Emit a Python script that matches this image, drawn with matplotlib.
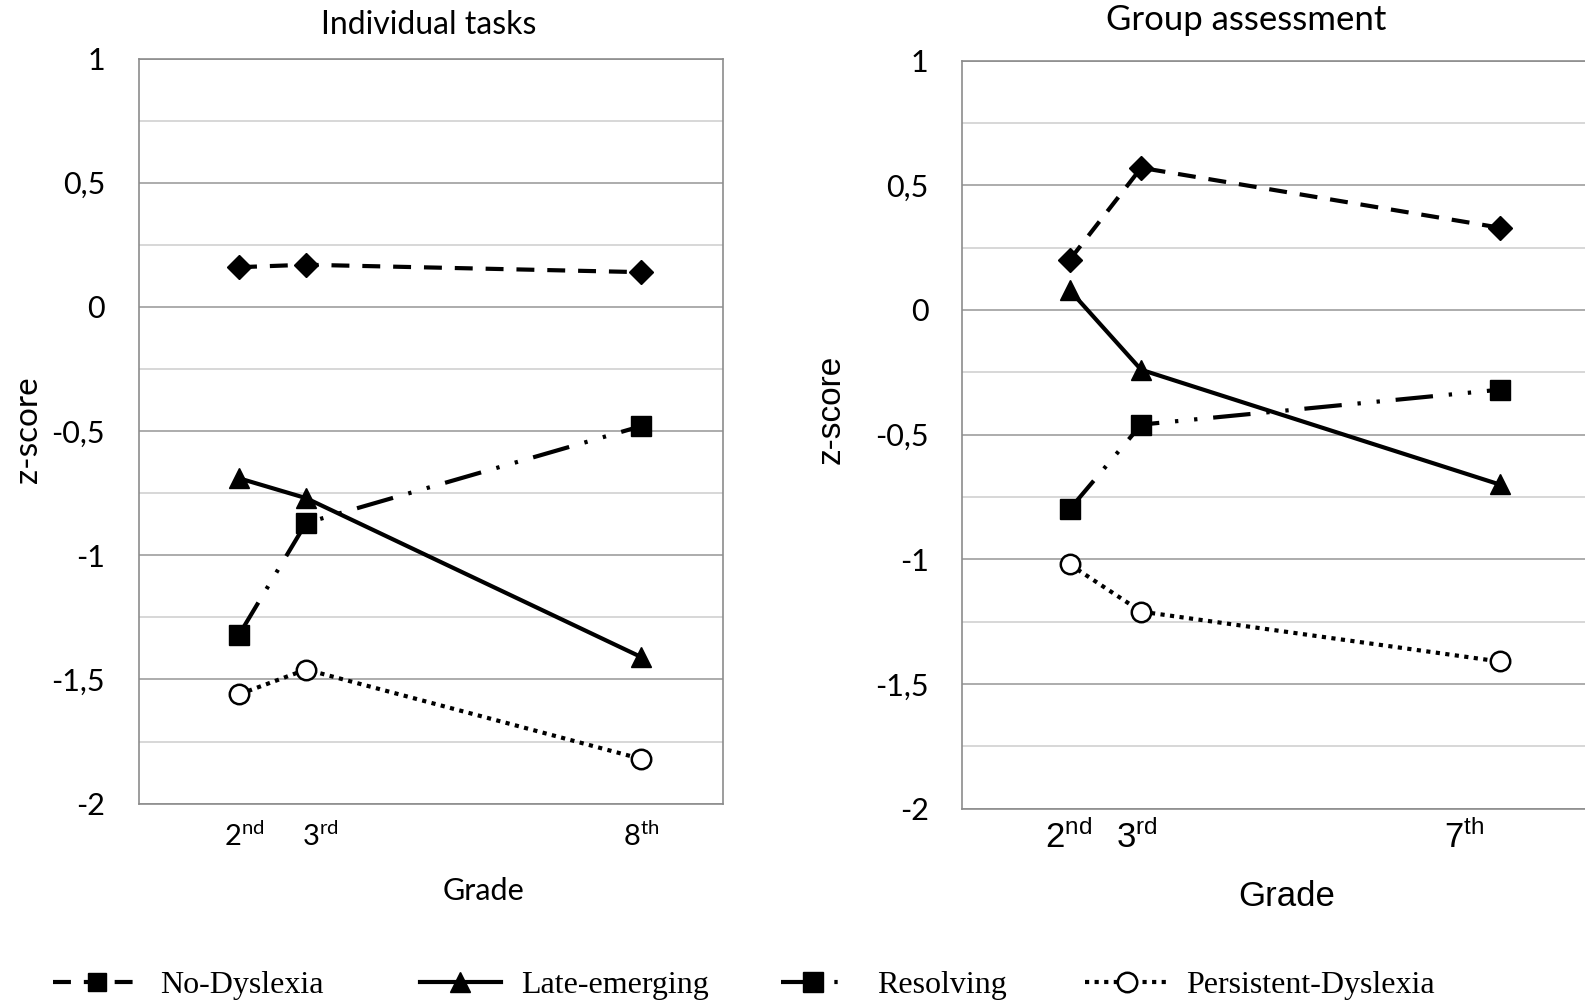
import matplotlib.pyplot as plt
from matplotlib.lines import Line2D
from matplotlib.ticker import MultipleLocator, FuncFormatter
import matplotlib.transforms as mtransforms

plt.rcParams['mathtext.default'] = 'regular'

# data
groups = ['No-Dyslexia', 'Late-emerging', 'Resolving', 'Persistent-Dyslexia']

ind_x = [2, 3, 8]
ind_grades = ['2', '3', '8']
ind_suffix = ['nd', 'rd', 'th']
ind_values = {
    'No-Dyslexia': [0.16, 0.17, 0.14],
    'Late-emerging': [-0.69, -0.77, -1.41],
    'Resolving': [-1.32, -0.87, -0.48],
    'Persistent-Dyslexia': [-1.56, -1.46, -1.82],
}

grp_x = [2, 3, 8]
grp_grades = ['2', '3', '7']
grp_suffix = ['nd', 'rd', 'th']
grp_values = {
    'No-Dyslexia': [0.20, 0.57, 0.33],
    'Late-emerging': [0.08, -0.24, -0.70],
    'Resolving': [-0.80, -0.46, -0.32],
    'Persistent-Dyslexia': [-1.02, -1.21, -1.41],
}

LW = 3
styles = {
    'No-Dyslexia': dict(marker='D', ms=12.5, mfc='black', ls=(0, (4.3, 3.1))),
    'Late-emerging': dict(marker='^', ms=15, mfc='black', ls='-'),
    'Resolving': dict(marker='s', ms=14, mfc='black',
                      ls=(0, (9, 3.8, 0.8, 3.8, 0.8, 3.8))),
    'Persistent-Dyslexia': dict(marker='o', ms=14, mfc='white', mew=1.8,
                                ls=(0, (1, 1.3))),
}

calibri = 'Lato'
narrow = ['Liberation Sans Narrow', 'Liberation Sans']
serif = 'Liberation Serif'

fig = plt.figure(figsize=(15.85, 10.08), dpi=100)
ax1 = fig.add_axes([138.5 / 1585, 1 - 803.6 / 1008, 584.5 / 1585, 745 / 1008])
ax2 = fig.add_axes([962 / 1585, 1 - 808.6 / 1008, 625 / 1585, 748 / 1008])


def comma(v, _):
    return ('%g' % v).replace('.', ',')


def draw_panel(ax, xs, values):
    for g in groups:
        st = styles[g]
        ax.plot(xs, values[g], color='black', lw=LW, ls=st['ls'],
                marker=st['marker'], ms=st['ms'], mfc=st['mfc'],
                mec='black', mew=st.get('mew', 1), zorder=3)
    ax.set_xlim(0.5, 9.22)
    ax.set_ylim(-2, 1)
    ax.yaxis.set_major_locator(MultipleLocator(0.5))
    ax.yaxis.set_minor_locator(MultipleLocator(0.25))
    ax.yaxis.set_major_formatter(FuncFormatter(comma))
    ax.grid(axis='y', which='major', color='#a6a6a6', lw=1.3)
    ax.grid(axis='y', which='minor', color='#d4d4d4', lw=1.3)
    ax.set_axisbelow(True)
    ax.tick_params(which='both', length=0)
    for sp in ax.spines.values():
        sp.set_color('#8c8c8c')
        sp.set_linewidth(1.2)


draw_panel(ax1, ind_x, ind_values)
draw_panel(ax2, grp_x, grp_values)

# left panel text
ax1.set_xticks(ind_x, labels=[f'{g}$^{{{s}}}$' for g, s in zip(ind_grades, ind_suffix)])
ax1.tick_params(axis='y', pad=24, labelsize=22, labelfontfamily=calibri)
ax1.tick_params(axis='x', pad=13, labelsize=21, labelfontfamily=calibri)
fig.text(428.6 / 1585, 1 - 25 / 1008, 'Individual tasks', fontsize=23,
         family=calibri, ha='center', va='center')
fig.text(483 / 1585, 1 - 891 / 1008, 'Grade', fontsize=22,
         family=calibri, ha='center', va='center')
fig.text(28 / 1585, 1 - 430 / 1008, 'z-score', fontsize=24, rotation=90,
         family=calibri, ha='center', va='center')

# right panel text
ax2.set_xticks(grp_x, labels=[f'{g}$^{{{s}}}$' for g, s in zip(grp_grades, grp_suffix)])
ax2.tick_params(axis='y', pad=24, labelsize=22, labelfontfamily=calibri)
ax2.tick_params(axis='x', pad=8, labelsize=25)
for lbl in ax2.get_xticklabels():
    lbl.set_family(narrow)
fig.text(1246 / 1585, 1 - 20 / 1008, 'Group assessment', fontsize=25,
         family=calibri, ha='center', va='center')
fig.text(1287 / 1585, 1 - 896 / 1008, 'Grade', fontsize=25,
         family=narrow, ha='center', va='center')
fig.text(831 / 1585, 1 - 409 / 1008, 'z-score', fontsize=24, rotation=90,
         family=narrow, ha='center', va='center')

# nudge some grade labels like in the original
for lbl, dx in zip(ax1.get_xticklabels(), [5, 14, 0]):
    lbl.set_transform(lbl.get_transform() + mtransforms.ScaledTranslation(dx / 100, 0, fig.dpi_scale_trans))
for lbl, dx in zip(ax2.get_xticklabels(), [-1, -4, -35]):
    lbl.set_transform(lbl.get_transform() + mtransforms.ScaledTranslation(dx / 100, 0, fig.dpi_scale_trans))

# legend, one entry at a time
legend_marker = {'No-Dyslexia': ('s', 13)}
leg_x = [53, 420, 781, 1085]
leg_len = [2.78, 2.53, 1.98, 2.6]
leg_pad = [0.56, 0.62, 1.04, 0.56]
for g, x0, hl, hp in zip(groups, leg_x, leg_len, leg_pad):
    st = styles[g]
    mk, ms = legend_marker.get(g, (st['marker'], st['ms']))
    h = Line2D([], [], color='black', lw=LW, ls=st['ls'],
               marker=mk, ms=ms,
               mfc=st['mfc'], mec='black', mew=st.get('mew', 1))
    leg = fig.legend([h], [g], loc='center left',
                     bbox_to_anchor=(x0 / 1585, 1 - 985 / 1008),
                     frameon=False, borderpad=0, borderaxespad=0,
                     handlelength=hl, handletextpad=hp, numpoints=1,
                     prop={'family': serif, 'size': 23})

fig.savefig('out.png', dpi=100)
